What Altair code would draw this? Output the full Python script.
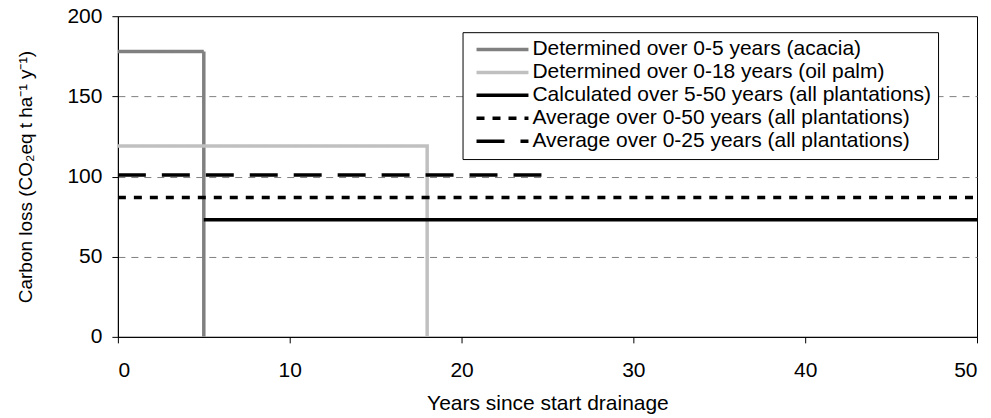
import altair as alt
import pandas as pd

series_names = [
    "Determined over 0-5 years (acacia)",
    "Determined over 0-18 years (oil palm)",
    "Calculated over 5-50 years (all plantations)",
    "Average over 0-50 years (all plantations)",
    "Average over 0-25 years (all plantations)",
]
acacia_x = [0, 5, 5]
acacia_y = [178, 178, 0]
oilpalm_x = [0, 18, 18]
oilpalm_y = [119, 119, 0]
calc_x = [5, 50]
calc_y = [73, 73]
avg50_x = [0, 50]
avg50_y = [87, 87]
avg25_x = [0, 25]
avg25_y = [101, 101]

colors = ["#808080", "#c0c0c0", "#000000", "#000000", "#000000"]
dashes = [[1, 0], [1, 0], [1, 0], [8, 8], [28, 16]]
widths = [3.5, 3.5, 4, 4.5, 4.5]

rows = []
for name, xs, ys in zip(series_names,
                        [acacia_x, oilpalm_x, calc_x, avg50_x, avg25_x],
                        [acacia_y, oilpalm_y, calc_y, avg50_y, avg25_y]):
    for i, (xv, yv) in enumerate(zip(xs, ys)):
        rows.append({"series": name, "x": xv, "y": yv, "i": i})
df = pd.DataFrame(rows)

legend = alt.Legend(
    orient="none", legendX=345, legendY=16, direction="vertical",
    strokeColor="black", fillColor="white", padding=6,
    symbolType="stroke", symbolSize=2704, symbolOffset=6,
    clipHeight=22.5, rowPadding=0,
    labelFontSize=21, labelLimit=1000, labelOffset=2,
    labelColor="black",
)

chart = alt.Chart(df).mark_line(clip=True).encode(
    x=alt.X("x:Q", scale=alt.Scale(domain=[0, 50], nice=False),
            axis=alt.Axis(values=[0, 10, 20, 30, 40, 50], grid=False,
                          title="Years since start drainage", format="d")),
    y=alt.Y("y:Q", scale=alt.Scale(domain=[0, 200], nice=False),
            axis=alt.Axis(values=[0, 50, 100, 150, 200], grid=True,
                          title="Carbon loss (CO₂eq t ha⁻¹ y⁻¹)", format="d",
                          gridDash=[7, 6], gridColor="#808080", gridWidth=1,
                          gridOpacity=alt.ExprRef(expr="datum.value == 0 || datum.value == 200 ? 0 : 1"),
                          titlePadding=31, titleFontSize=19)),
    color=alt.Color("series:N", scale=alt.Scale(domain=series_names, range=colors),
                    legend=legend, title=None),
    strokeDash=alt.StrokeDash("series:N", scale=alt.Scale(domain=series_names, range=dashes),
                              legend=legend, title=None),
    strokeWidth=alt.StrokeWidth("series:N", scale=alt.Scale(domain=series_names, range=widths),
                                legend=legend, title=None),
    order="i:Q",
).properties(
    width=860, height=321,
    autosize=alt.AutoSizeParams(type="none"),
    padding={"left": 110, "top": 8, "right": 6, "bottom": 80},
).configure(
    font="Liberation Sans",
).configure_view(
    stroke="black", strokeWidth=1,
).configure_axis(
    domainColor="black", tickColor="black", tickSize=6,
    labelColor="black", labelFontSize=21, labelFont="Liberation Sans",
    titleColor="black", titleFontSize=21, titleFontWeight="normal",
    titleFont="Liberation Sans", labelPadding=10,
).configure_axisX(
    labelPadding=17, titlePadding=12,
)

chart.save("out.html", embed_options={"renderer": "svg", "actions": False})
